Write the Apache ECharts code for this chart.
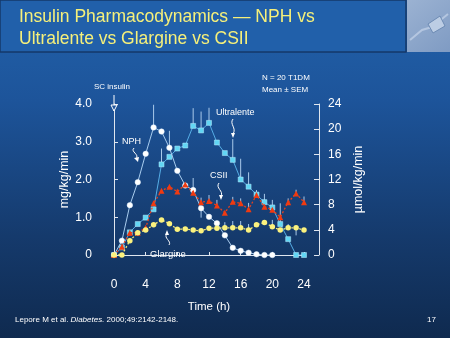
<!DOCTYPE html>
<html>
<head>
<meta charset="utf-8">
<script src="https://cdn.jsdelivr.net/npm/echarts@6/dist/echarts.min.js"></script>
<style>
html,body{margin:0;padding:0;background:#173f74;}
#c{width:450px;height:338px;}
</style>
</head>
<body>
<div id="c"></div>
<script>
// ---- data ----
const hours = [0,1,2,3,4,5,6,7,8,9,10,11,12,13,14,15,16,17,18,19,20,21,22,23,24];
const nphHours = [0,1,2,3,4,5,6,7,8,9,10,11,12,13,14,15,16,17,18,19,20];
const nph = [0,0.38,1.32,1.93,2.68,3.38,3.27,2.84,2.23,1.84,1.72,1.24,1.01,0.84,0.52,0.19,0.11,0.06,0.02,0,0];
const nphErr = [0,0,0,0,0,0.6,0,0.45,0,0,0.32,-0.25,0,0,0,0,0,0,0,0,0];
const ultralente = [0,0.2,0.6,0.82,0.99,1.21,2.4,2.6,2.82,2.9,3.42,3.3,3.5,2.98,2.7,2.52,2.0,1.81,1.6,1.4,1.26,0.82,0.42,0,0];
const ultralenteErr = [0,0,0,0,0,0,0.42,0,0,0,0.47,0.5,0.4,0,0,0.55,0.55,0.38,0,0.22,0.2,0.55,0,0,0];
const csii = [0,0.22,0.59,0.59,0.72,1.37,1.70,1.81,1.68,1.87,1.65,1.40,1.43,1.31,1.12,1.41,1.37,1.21,1.59,1.28,1.20,1.0,1.40,1.63,1.40];
const csiiErr = [0,0,0,0,0,0,0,0,0,0,0,0.12,0.16,0.15,0,0.13,0.13,0.17,0.13,0,0,0,0.1,0.1,0.15];
const glargine = [0,0,0.38,0.59,0.66,0.80,0.93,0.83,0.68,0.69,0.66,0.64,0.71,0.71,0.72,0.72,0.72,0.66,0.80,0.86,0.75,0.66,0.72,0.72,0.66];
const glargineErr = [0,0,0,0,0,0,0,0,0,0,0,0,0,0.18,0.15,0.18,0.18,0.16,0,0,0.18,0,0.1,-0.2,0];
const leftTicks = ['0','1.0','2.0','3.0','4.0'];
const rightTicks = ['0','4','8','12','16','20','24'];
const xTicks = ['0','4','8','12','16','20','24'];

// ---- build ----
function pairs(xs, ys){ return xs.map((x,i)=>[x, ys[i]]); }
function errPairs(xs, ys, es){
  const out=[]; xs.forEach((x,i)=>{ if(es[i]!==0) out.push([x, ys[i], ys[i]+es[i]]); }); return out;
}
const errData = []
  .concat(errPairs(hours, ultralente, ultralenteErr))
  .concat(errPairs(nphHours, nph, nphErr))
  .concat(errPairs(hours, csii, csiiErr))
  .concat(errPairs(hours, glargine, glargineErr));

const FONT = 'Liberation Sans, Arial, sans-serif';
const axisCol = '#dfe6ef';

const chart = echarts.init(document.getElementById('c'), null, {renderer:'canvas'});

function squiggle(x1,y1,cx1,cy1,cx2,cy2,x2,y2){
  return {type:'bezierCurve', shape:{x1:x1,y1:y1,cpx1:cx1,cpy1:cy1,cpx2:cx2,cpy2:cy2,x2:x2,y2:y2},
    style:{stroke:'#ffffff', lineWidth:1, fill:null}, z:20};
}
function head(points){
  return {type:'polygon', shape:{points:points}, style:{fill:'#ffffff'}, z:20};
}

chart.setOption({
  animation:false,
  backgroundColor:{type:'linear', x:0, y:0, x2:0, y2:1, colorStops:[
    {offset:0, color:'#2262ab'}, {offset:0.3, color:'#1d549a'}, {offset:0.7, color:'#153a6c'}, {offset:1, color:'#0f2a4f'}]},
  grid:{left:114, right:146, top:104, bottom:83},
  xAxis:{
    type:'value', min:0, max:24, interval:4, offset:13,
    name:'Time (h)', nameLocation:'middle', nameGap:33,
    nameTextStyle:{color:'#ffffff', fontSize:11.5, fontFamily:FONT},
    axisLine:{show:true, lineStyle:{color:axisCol, width:1}},
    axisTick:{show:true, inside:true, length:3, lineStyle:{color:axisCol}},
    axisLabel:{color:'#ffffff', fontSize:12, fontFamily:FONT, margin:11,
      formatter:(v)=>xTicks[xTicks.indexOf(String(v))]},
    splitLine:{show:false}
  },
  yAxis:[{
    type:'value', min:0, max:4, interval:1, offset:15, position:'left',
    name:'mg/kg/min', nameLocation:'middle', nameGap:27, nameRotate:90,
    nameTextStyle:{color:'#ffffff', fontSize:12.5, fontFamily:FONT},
    axisLine:{show:true, lineStyle:{color:axisCol}},
    axisTick:{show:true, inside:true, length:4, lineStyle:{color:axisCol}},
    axisLabel:{color:'#ffffff', fontSize:12, fontFamily:FONT, margin:7,
      formatter:(v)=>leftTicks[Math.round(v)]},
    splitLine:{show:false}
  },{
    type:'value', min:0, max:24, interval:4, offset:15, position:'right',
    name:'\u00b5mol/kg/min', nameLocation:'middle', nameGap:33, nameRotate:90,
    nameTextStyle:{color:'#ffffff', fontSize:12.5, fontFamily:FONT},
    axisLine:{show:true, lineStyle:{color:axisCol}},
    axisTick:{show:true, inside:true, length:5, lineStyle:{color:axisCol}},
    axisLabel:{color:'#ffffff', fontSize:12, fontFamily:FONT, margin:9,
      formatter:(v)=>rightTicks[rightTicks.indexOf(String(v))]},
    splitLine:{show:false}
  }],
  series:[
    {type:'custom', name:'err', yAxisIndex:0, data:errData, z:1,
      renderItem:(params, api)=>{
        const p1 = api.coord([api.value(0), api.value(1)]);
        const p2 = api.coord([api.value(0), api.value(2)]);
        return {type:'line', shape:{x1:p1[0], y1:p1[1], x2:p2[0], y2:p2[1]},
          style:{stroke:'#a9c9ea', lineWidth:1}};
      }},
    {type:'line', name:'Ultralente', data:pairs(hours, ultralente), z:3,
      symbol:'rect', symbolSize:5, lineStyle:{color:'#56aee6', width:1},
      itemStyle:{color:'#62d6f4', borderColor:'#b8ecff', borderWidth:0.5}},
    {type:'line', name:'NPH', data:pairs(nphHours, nph), z:4,
      symbol:'circle', symbolSize:5.5, lineStyle:{color:'#a9cdef', width:1},
      itemStyle:{color:'#ffffff', borderColor:'#dfefff', borderWidth:0.5}},
    {type:'line', name:'CSII', data:pairs(hours, csii), z:5,
      symbol:'triangle', symbolSize:6, lineStyle:{color:'#e8401c', width:1.3, type:[2,2]},
      itemStyle:{color:'#f03a10'}},
    {type:'line', name:'Glargine', data:pairs(hours, glargine), z:6,
      symbol:'circle', symbolSize:5.5, lineStyle:{color:'#f2e878', width:1.3, type:[2,2]},
      itemStyle:{color:'#fbf27e'}}
  ],
  graphic:[
    {type:'rect', shape:{x:0, y:0, width:406, height:52}, style:{fill:'#2160aa', stroke:'#15386a', lineWidth:1.5}, z:0},
    {type:'rect', shape:{x:407, y:0, width:43, height:52}, style:{fill:{type:'linear',x:0,y:0,x2:1,y2:1,colorStops:[{offset:0,color:'#9bb2d2'},{offset:1,color:'#7f9bc3'}]}}, z:0},
    {type:'polyline', shape:{points:[[410,40],[422,30],[432,27],[448,14]]}, style:{stroke:'#b4c6e0', lineWidth:2, fill:null}, z:1},
    {type:'polygon', shape:{points:[[428,24],[440,16],[445,26],[433,33]]}, style:{fill:'#bccde4', stroke:'#6d8bb4'}, z:1},
    {type:'text', left:19, top:6, style:{text:'Insulin Pharmacodynamics \u2014 NPH vs\nUltralente vs Glargine vs CSII', fill:'#f6f07a', font:'17.5px '+FONT, lineHeight:22}, z:10},
    {type:'text', left:94, top:83, style:{text:'SC insulin', fill:'#ffffff', font:'8px '+FONT}, z:10},
    {type:'line', shape:{x1:114, y1:95, x2:114, y2:111}, style:{stroke:'#ffffff', lineWidth:1}, z:10},
    {type:'polygon', shape:{points:[[111,105],[117,105],[114,111]]}, style:{fill:'#1f559c', stroke:'#ffffff', lineWidth:1}, z:11},
    {type:'text', left:262, top:74, style:{text:'N = 20 T1DM', fill:'#ffffff', font:'8px '+FONT}, z:10},
    {type:'text', left:262, top:86, style:{text:'Mean \u00b1 SEM', fill:'#ffffff', font:'8px '+FONT}, z:10},
    {type:'text', left:122, top:137, style:{text:'NPH', fill:'#ffffff', font:'9px '+FONT}, z:10},
    squiggle(134,148,130,152,140,154,136,159), head([[134,158],[139,157],[138,162]]),
    {type:'text', left:216, top:108, style:{text:'Ultralente', fill:'#ffffff', font:'9px '+FONT}, z:10},
    squiggle(233,119,229,124,237,128,233,134), head([[231,133],[235,133],[233,138]]),
    {type:'text', left:210, top:171, style:{text:'CSII', fill:'#ffffff', font:'9px '+FONT}, z:10},
    squiggle(219,183,215,188,224,191,221,196), head([[219,195],[223,195],[221,200]]),
    {type:'text', left:150, top:249, style:{text:'Glargine', fill:'#ffffff', font:'9.5px '+FONT}, z:10},
    squiggle(169,245,172,241,163,238,167,234), head([[165,235],[169,235],[167,230]]),
    {type:'text', left:15, top:316, style:{rich:{n:{fill:'#ffffff', font:'8px '+FONT}, i:{fill:'#ffffff', font:'italic 8px '+FONT}},
      text:'{n|Lepore M et al. }{i|Diabetes.}{n| 2000;49:2142-2148.}'}, z:10},
    {type:'text', left:427, top:316, style:{text:'17', fill:'#ffffff', font:'8px '+FONT}, z:10}
  ]
});
</script>
</body>
</html>
